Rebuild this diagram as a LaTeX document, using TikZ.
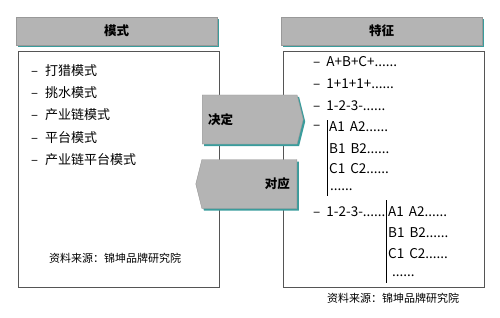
\documentclass[tikz,border=0pt]{standalone}
\usepackage{fontspec}
\setmainfont{Noto Sans CJK SC}
\usetikzlibrary{positioning,shapes.symbols,shadows}
\definecolor{headgray}{HTML}{B4B4B4}
\definecolor{tealedge}{HTML}{3A9C9C}
\definecolor{framegray}{HTML}{555555}

\begin{document}
\begin{tikzpicture}[
    x=1pt,y=-1pt,
    head/.style={fill=headgray,draw=headgray!85!black,line width=0.4pt,minimum width=201pt,minimum height=28pt,
      inner sep=0pt,anchor=north west,font=\fontsize{12.5}{14}\selectfont\bfseries,
      drop shadow={shadow xshift=2pt,shadow yshift=-2pt,fill=tealedge,opacity=1}},
    frame/.style={draw=framegray,line width=0.8pt,minimum width=201pt,minimum height=236pt,inner sep=0pt,anchor=north west},
    pointer/.style={signal,fill=headgray,draw=headgray!85!black,line width=0.4pt,minimum width=101pt,minimum height=49pt,
      inner sep=0pt,signal pointer angle=152,
      drop shadow={shadow xshift=2pt,shadow yshift=-2pt,fill=tealedge,opacity=1}},
    item/.style={anchor=west,inner sep=0pt,font=\fontsize{13}{15}\selectfont},
    feat/.style={anchor=west,inner sep=0pt,font=\fontsize{13.5}{15}\selectfont},
    source/.style={inner sep=0pt,font=\fontsize{11}{13}\selectfont},
    bar/.style={line width=1pt,black}
  ]
    \useasboundingbox (0,0) rectangle (500,318);
    % headers and frames
    \node[head] (modehead) at (16,17) {模式};
    \node[head] (feathead) at (281,17) {特征};
    \node[frame] (modebox) at (18,51) {};
    \node[frame] (featbox) at (283,51) {};
    % middle pointers
    \node[pointer,signal to=east,anchor=west] (decide) at (202,119.5) {};
    \node[item,font=\fontsize{12.5}{14}\selectfont\bfseries] (decidetext) at ([xshift=6pt]decide.west) {决定};
    \node[pointer,signal to=west,anchor=east] (match) at (297,184) {};
    \node[item,anchor=east,font=\fontsize{12.5}{14}\selectfont\bfseries] (matchtext) at ([xshift=-7pt]match.east) {对应};
    % left list
    \foreach \txt [count=\i] in {打猎模式,挑水模式,产业链模式,平台模式,产业链平台模式}
      \node[item] (mode\i) at (31,48+22.3*\i) {–\hspace{7pt}\txt};
    \node[source] (modesrc) at (115,258) {资料来源：锦坤品牌研究院};
    % right list
    \node[feat] (f1) at (313,62) {–\hspace{6pt}A+B+C+......};
    \node[feat] (f2) at (313,84) {–\hspace{6pt}1+1+1+......};
    \node[feat] (f3) at (313,106) {–\hspace{6pt}1-2-3-......};
    \node[feat] (f4) at (313,127) {–};
    \node[feat] (a1) at (329,127) {A1\hspace{5pt}A2......};
    \node[feat] (b1) at (329,149) {B1\hspace{5pt}B2......};
    \node[feat] (c1) at (329,169) {C1\hspace{5pt}C2......};
    \node[feat] (d1) at (330,190) {......};
    \node[feat] (f5) at (313,212) {–\hspace{6pt}1-2-3-......};
    \node[feat] (a2) at (388,212) {A1\hspace{5pt}A2......};
    \node[feat] (b2) at (388,233) {B1\hspace{5pt}B2......};
    \node[feat] (c2) at (388,254) {C1\hspace{5pt}C2......};
    \node[feat] (d2) at (392,276) {......};
    \coordinate (bar1top) at (327,120);
    \coordinate (bar1bot) at (327,196);
    \coordinate (bar2top) at (386,200);
    \coordinate (bar2bot) at (386,283);
    \draw[bar] (bar1top) -- (bar1bot);
    \draw[bar] (bar2top) -- (bar2bot);
    \node[source] (featsrc) at (393,298) {资料来源：锦坤品牌研究院};
  \end{tikzpicture}
\end{document}
